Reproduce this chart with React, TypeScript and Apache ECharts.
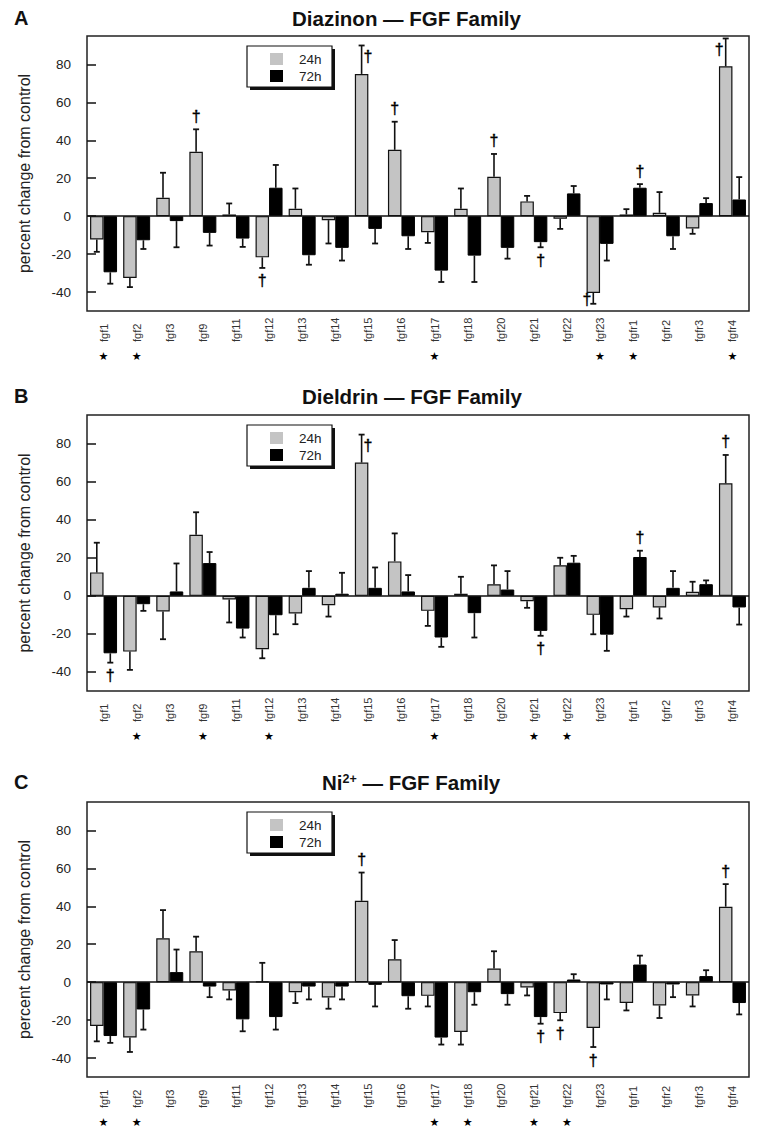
import React, { useEffect, useRef } from 'react';
import * as echarts from 'echarts';

const categories = ['fgf1', 'fgf2', 'fgf3', 'fgf9', 'fgf11', 'fgf12', 'fgf13', 'fgf14', 'fgf15', 'fgf16', 'fgf17', 'fgf18', 'fgf20', 'fgf21', 'fgf22', 'fgf23', 'fgfr1', 'fgfr2', 'fgfr3', 'fgfr4'];
const yTickValues = [-40, -20, 0, 20, 40, 60, 80];
const seriesNames = ['24h', '72h'];

// Panel A: Diazinon
const diazinon24 = [-12.3, -32.6, 9.7, 34, 0.9, -21.7, 3.9, -2.1, 75, 35, -8.5, 3.9, 20.8, 7.8, -1.4, -40.5, 0.9, 1.8, -6.5, 79];
const diazinon24Err = [6.5, 4.8, 13.2, 11.8, 5.8, 5.6, 10.7, 12.3, 15, 14.8, 5.6, 10.7, 12, 2.9, 5.3, 5.7, 2.8, 10.9, 2.8, 14.7];
const diazinon72 = [-29.6, -12.7, -2.6, -8.8, -11.8, 15, -20.6, -16.7, -6.7, -10.6, -28.7, -20.8, -16.7, -13.7, 12, -14.6, 15, -10.6, 6.9, 8.8];
const diazinon72Err = [6, 4.6, 13.8, 6.7, 4.4, 12, 5, 6.7, 7.7, 6.7, 6, 13.9, 5.7, 2.7, 3.9, 8.8, 1.9, 6.7, 2.6, 11.8];
const diazinonDaggers = [['fgf9', '24h', 'above'], ['fgf12', '24h', 'below'], ['fgf15', '24h', 'right'], ['fgf16', '24h', 'above'], ['fgf20', '24h', 'above'], ['fgf21', '72h', 'below'], ['fgf23', '24h', 'left'], ['fgfr1', '72h', 'above'], ['fgfr4', '24h', 'left']];
const diazinonStars = ['fgf1', 'fgf2', 'fgf17', 'fgf23', 'fgfr1', 'fgfr4'];

// Panel B: Dieldrin
const dieldrin24 = [12.3, -29.3, -8.2, 32.1, -1.9, -28.1, -9.3, -4.9, 70, 18.1, -7.9, 1.1, 6.1, -2.8, 16.1, -10, -7, -6.1, 2.1, 59.1];
const dieldrin24Err = [15.6, 9.6, 14.6, 11.8, 12.1, 4.7, 5.6, 6, 14.7, 14.7, 7.9, 8.9, 9.9, 3.5, 3.9, 10.2, 3.9, 5.8, 5.3, 14.9];
const dieldrin72 = [-30.2, -4.4, 2.3, 17.2, -17.2, -10.2, 4.2, 1.1, 4.2, 2.3, -21.9, -9.1, 3.3, -18.4, 17.4, -20.4, 20.4, 4.2, 6.1, -6.1];
const dieldrin72Err = [4.9, 3.5, 14.7, 5.8, 4.7, 10, 8.8, 11, 10.7, 8.6, 4.9, 12.8, 9.7, 2.6, 3.6, 8.5, 3.3, 8.8, 2, 9];
const dieldrinDaggers = [['fgf1', '72h', 'below'], ['fgf15', '24h', 'right'], ['fgf21', '72h', 'below'], ['fgfr1', '72h', 'above'], ['fgfr4', '24h', 'above']];
const dieldrinStars = ['fgf2', 'fgf9', 'fgf12', 'fgf17', 'fgf21', 'fgf22'];

// Panel C: Ni2+
const nickel24 = [-23.1, -29.2, 23.1, 16.3, -4.4, 0.3, -5.3, -8.1, 42.9, 12.1, -7.2, -26.3, 7.2, -2.8, -16.3, -24.2, -11, -12.3, -7, 39.8];
const nickel24Err = [8.1, 7.6, 14.9, 7.7, 4.7, 9.9, 5.7, 5.9, 14.9, 10.1, 5.6, 6.6, 9.1, 4.2, 3.8, 10, 3.9, 6.6, 5.8, 11.9];
const nickel72 = [-28.4, -14.4, 5.3, -2.3, -19.6, -18.4, -2.3, -2.3, -1.4, -7.4, -29.2, -5.3, -6.3, -18.4, 1.4, -1.2, 9.3, -1.2, 3.2, -11];
const nickel72Err = [3.6, 10.6, 11.9, 5.6, 6.3, 6.6, 6.8, 6.8, 11.4, 6.6, 3.7, 6.6, 5.6, 3.5, 2.8, 7.9, 4.7, 6.7, 3.1, 6];
const nickelDaggers = [['fgf15', '24h', 'above'], ['fgf21', '72h', 'below'], ['fgf22', '24h', 'below'], ['fgf23', '24h', 'below'], ['fgfr4', '24h', 'above']];
const nickelStars = ['fgf1', 'fgf2', 'fgf17', 'fgf18', 'fgf21', 'fgf22'];

const FONT = '"Liberation Sans", Arial, Helvetica, sans-serif';
const BAR_W = 13.5;

const panels = [
  { letter: 'A', title: '{t|Diazinon — FGF Family}', titleLeft: 292, v24: diazinon24, e24: diazinon24Err, v72: diazinon72, e72: diazinon72Err, daggers: diazinonDaggers, stars: diazinonStars, top: 36, height: 275, headTop: 8 },
  { letter: 'B', title: '{t|Dieldrin — FGF Family}', titleLeft: 302, v24: dieldrin24, e24: dieldrin24Err, v72: dieldrin72, e72: dieldrin72Err, daggers: dieldrinDaggers, stars: dieldrinStars, top: 415, height: 276, headTop: 386 },
  { letter: 'C', title: '{t|Ni}{s|2+}{t| — FGF Family}', titleLeft: 322, v24: nickel24, e24: nickel24Err, v72: nickel72, e72: nickel72Err, daggers: nickelDaggers, stars: nickelStars, top: 802, height: 275, headTop: 772 },
];

function buildOption() {
  const grid: any[] = [];
  const xAxis: any[] = [];
  const yAxis: any[] = [];
  const series: any[] = [];
  const title: any[] = [];
  const legend: any[] = [];
  const graphic: any[] = [];

  panels.forEach((p, g) => {
    grid.push({ left: 87, right: 10, top: p.top, height: p.height, show: true, borderColor: '#222', borderWidth: 1.5, backgroundColor: 'transparent' });
    xAxis.push({
      type: 'category', gridIndex: g, data: categories,
      axisLine: { show: false }, axisTick: { show: false },
      axisLabel: { rotate: 90, interval: 0, fontSize: 11, color: '#333', fontFamily: FONT, margin: 31, align: 'left' },
    });
    yAxis.push({
      type: 'value', gridIndex: g, min: -50, max: 95,
      axisLine: { show: false }, splitLine: { show: false },
      axisTick: { show: true, inside: true, length: 9, customValues: yTickValues, lineStyle: { color: '#111', width: 1.5 } },
      axisLabel: { customValues: yTickValues, fontSize: 13.5, color: '#222', margin: 16, fontFamily: FONT },
      name: 'percent change from control', nameLocation: 'middle', nameRotate: 90, nameGap: 55,
      nameTextStyle: { fontSize: 16, color: '#222', fontFamily: FONT },
    });
    title.push({ text: p.letter, left: 14, top: p.headTop, padding: 0, textStyle: { fontSize: 20, fontWeight: 'bold', color: '#111', fontFamily: FONT, lineHeight: 20 } });
    title.push({
      text: p.title, left: p.titleLeft, top: p.headTop, padding: 0,
      textStyle: {
        fontFamily: FONT,
        rich: {
          t: { fontSize: 20.5, fontWeight: 'bold', color: '#111', fontFamily: FONT, lineHeight: 20 },
          s: { fontSize: 12.5, fontWeight: 'bold', color: '#111', fontFamily: FONT, verticalAlign: 'top', lineHeight: 20, padding: [0, 0, 8, 0] },
        },
      },
    });
    legend.push({
      data: seriesNames, orient: 'vertical', left: 270, top: p.top + 16, itemWidth: 13, itemHeight: 12, itemGap: 3,
      selectedMode: false, z: 10, icon: 'rect', itemStyle: { borderWidth: 0 }, padding: 0,
      textStyle: { fontSize: 13.5, color: '#222', fontFamily: FONT, padding: [0, 0, 0, 11] },
    });
    graphic.push({ type: 'rect', z: 5, shape: { x: 250, y: p.top + 13, width: 85, height: 41 }, style: { fill: '#111' }, silent: true });
    graphic.push({ type: 'rect', z: 6, shape: { x: 247, y: p.top + 10, width: 85, height: 41 }, style: { fill: '#fff', stroke: '#111', lineWidth: 1.2 }, silent: true });

    series.push({
      name: '24h', type: 'bar', xAxisIndex: g, yAxisIndex: g, data: p.v24, barWidth: BAR_W, barGap: '0%',
      itemStyle: { color: '#c4c4c4', borderColor: '#111', borderWidth: 1.2 },
      markLine: { silent: true, symbol: ['none', 'none'], label: { show: false }, lineStyle: { color: '#111', width: 1.5, type: 'solid' }, data: [{ yAxis: 0 }] },
    });
    series.push({
      name: '72h', type: 'bar', xAxisIndex: g, yAxisIndex: g, data: p.v72, barWidth: BAR_W, barGap: '0%',
      itemStyle: { color: '#000', borderColor: '#000', borderWidth: 1 },
    });

    const errPairs = [[p.v24, p.e24], [p.v72, p.e72]];
    errPairs.forEach(([vals, errs], si) => {
      series.push({
        type: 'custom', xAxisIndex: g, yAxisIndex: g, silent: true, z: 3,
        data: vals.map((v, i) => [i, v, errs[i]]),
        encode: { x: 0, y: 1 },
        renderItem: (params: any, api: any) => {
          const ci = api.value(0), v = api.value(1), e = api.value(2);
          const sgn = v >= 0 ? 1 : -1;
          const p0 = api.coord([ci, v]);
          const p1 = api.coord([ci, v + sgn * e]);
          const x = p0[0] + (si === 0 ? -BAR_W / 2 : BAR_W / 2);
          return {
            type: 'group', children: [
              { type: 'line', shape: { x1: x, y1: p0[1], x2: x, y2: p1[1] }, style: { stroke: '#111', lineWidth: 1.6 } },
              { type: 'line', shape: { x1: x - 3, y1: p1[1], x2: x + 3, y2: p1[1] }, style: { stroke: '#111', lineWidth: 1.8 } },
            ],
          };
        },
      });
    });

    const modeIdx: Record<string, number> = { above: 0, below: 0, right: 1, left: 2 };
    series.push({
      type: 'custom', xAxisIndex: g, yAxisIndex: g, silent: true, z: 4,
      itemStyle: { color: '#000' },
      data: p.daggers.map(([cat, sname, mode]) => {
        const ci = categories.indexOf(cat);
        const si = seriesNames.indexOf(sname);
        const v = si === 0 ? p.v24[ci] : p.v72[ci];
        const e = si === 0 ? p.e24[ci] : p.e72[ci];
        return [ci, v, e, si, modeIdx[mode]];
      }),
      encode: { x: 0, y: 1 },
      renderItem: (params: any, api: any) => {
        const ci = api.value(0), v = api.value(1), e = api.value(2), si = api.value(3), m = api.value(4);
        const sgn = v >= 0 ? 1 : -1;
        const end = api.coord([ci, v + sgn * e]);
        const mid = api.coord([ci, v + sgn * e * 0.6]);
        let x = end[0] + (si === 0 ? -BAR_W / 2 : BAR_W / 2);
        let y = end[1] - sgn * 13;
        let align = 'center';
        if (m === 1) { x += 2; y = mid[1]; align = 'left'; }
        if (m === 2) { x -= 2; y = mid[1]; align = 'right'; }
        return { type: 'text', x, y, style: { text: '†', fontSize: 16, fill: '#000', stroke: '#000', lineWidth: 0.4, align, verticalAlign: 'middle', fontFamily: FONT } };
      },
    });

    series.push({
      type: 'custom', xAxisIndex: g, yAxisIndex: g, silent: true, z: 4,
      itemStyle: { color: '#000' },
      data: p.stars.map((cat) => [categories.indexOf(cat), 0]),
      encode: { x: 0, y: 1 },
      renderItem: (params: any, api: any) => {
        const cs = params.coordSys;
        const pt = api.coord([api.value(0), 0]);
        return { type: 'text', x: pt[0], y: cs.y + cs.height + 45, style: { text: '★', fontSize: 11, fill: '#000', align: 'center', verticalAlign: 'middle', fontFamily: '"DejaVu Sans", sans-serif' } };
      },
    });
  });

  return { animation: false, backgroundColor: '#fff', grid, xAxis, yAxis, series, title, legend, graphic };
}

export default function App() {
  const ref = useRef<HTMLDivElement>(null);
  useEffect(() => {
    if (!ref.current) return;
    const chart = echarts.init(ref.current, null, { renderer: 'svg' });
    chart.setOption(buildOption() as any);
    return () => chart.dispose();
  }, []);
  return <div ref={ref} style={{ position: 'absolute', left: 0, top: 0, width: 759, height: 1135 }} />;
}
